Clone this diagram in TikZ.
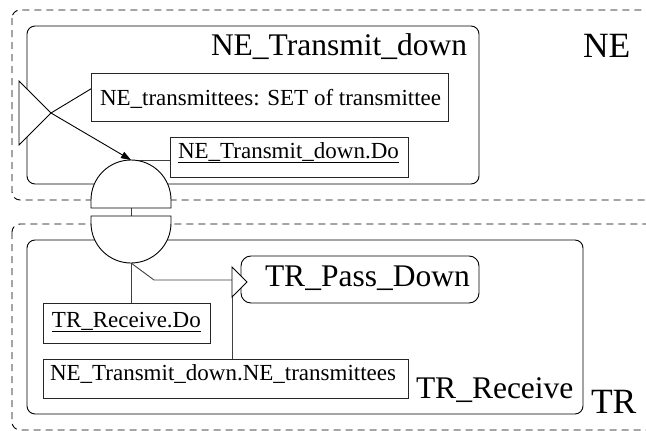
\documentclass[tikz,border=0pt]{standalone}
\usepackage{fontspec}
\setmainfont{Liberation Serif}
\usetikzlibrary{arrows.meta,calc}

\tikzset{
  every node/.style={inner sep=0pt, outer sep=0pt},
  zone/.style={draw=black, line width=0.9pt, dash pattern=on 7pt off 5pt, rounded corners=8pt},
  capsule/.style={draw=black, line width=0.9pt, rounded corners=8pt},
  attrbox/.style={draw=black!85, line width=0.9pt},
  wire/.style={draw=black!75, line width=0.9pt},
  gate/.style={draw=black, line width=0.9pt, fill=white},
  port/.style={draw=black, line width=0.9pt, fill=white, line join=miter},
  bigtxt/.style={anchor=base west, font=\fontsize{31.5}{36}\selectfont},
  hugetxt/.style={anchor=base west, font=\fontsize{35.5}{40}\selectfont},
  smalltxt/.style={anchor=base west, font=\fontsize{23}{26}\selectfont},
}

\begin{document}
\begin{tikzpicture}[x=1pt,y=-1pt]
\useasboundingbox (0,0) rectangle (646,431);
\clip (0,0) rectangle (646,431);

% component zones
\draw[zone] (12,10) rectangle (680,200);
\draw[zone] (12,224) rectangle (680,430);

% capsules
\draw[capsule] (27,26) rectangle (479,184);
\draw[capsule] (27,240) rectangle (583,414);
\draw[capsule, rounded corners=10pt] (241,256) rectangle (479,303);

% attribute / action boxes
\node[attrbox, anchor=north west, minimum width=357pt, minimum height=48pt] (tset) at (91,73) {};
\node[attrbox, anchor=north west, minimum width=238pt, minimum height=40pt] (tdo) at (170,137) {};
\node[attrbox, anchor=north west, minimum width=167pt, minimum height=40pt] (rdo) at (43,303) {};
\node[attrbox, anchor=north west, minimum width=365pt, minimum height=39pt] (rset) at (43,359) {};

% labels
\node[bigtxt] (ntitle) at (211,56) {NE\_Transmit\_down};
\node[hugetxt] (nzone) at (583,57) {NE};
\node[smalltxt] (tsettxt) at (100,105) {NE\_transmittees: SET of transmittee};
\node[smalltxt] (tdotxt) at (178,158) {\underline{NE\_Transmit\_down.Do}};
\node[bigtxt] (ptitle) at (265,286) {TR\_Pass\_Down};
\node[smalltxt] (rdotxt) at (52,327) {\underline{TR\_Receive.Do}};
\node[smalltxt] (rsettxt) at (50,380) {NE\_Transmit\_down.NE\_transmittees};
\node[bigtxt] (rtitle) at (416,398) {TR\_Receive};
\node[hugetxt] (tzone) at (591,413) {TR};

% gate anchors
\coordinate (gtop) at (131,160);
\coordinate (gmid1) at (131,208);
\coordinate (gmid2) at (131,216);
\coordinate (gbot) at (131,263);

% port triangles
\coordinate (pa) at (51,113);
\coordinate (pu) at (19,81);
\coordinate (pl) at (19,145);
\coordinate (qa) at (247,282);
\coordinate (qu) at (232,267);
\coordinate (ql) at (232,297);
\coordinate (bend) at (154,280);

% connectors
\draw[wire, draw=black] (pa) -- ($(tset.north west)!0.33!(tset.south west)$);
\draw[wire, draw=black, -{Triangle[length=10pt,width=7pt,fill=black]}] (pa) -- (gtop);
\draw[wire] (gtop) -- (gtop -| tdo.west);
\draw[wire] (gmid1) -- (gmid2);
\draw[wire] (gbot) -- (gbot |- rdo.north);
\draw[wire] (gbot) -- (bend) -- (bend -| qu);
\draw[wire] (ql) -- (ql |- rset.north);

% port shapes
\draw[port] (pu) -- (pl) -- (pa) -- cycle;
\draw[port] (qu) -- (ql) -- (qa) -- cycle;

% interface gates
\draw[gate] (91,208) -- (91,200) arc[start angle=180, end angle=0, radius=40pt] -- (171,208) -- cycle;
\draw[gate] (91,216) -- (91,223) arc[start angle=180, end angle=360, radius=40pt] -- (171,216) -- cycle;
\end{tikzpicture}
\end{document}
